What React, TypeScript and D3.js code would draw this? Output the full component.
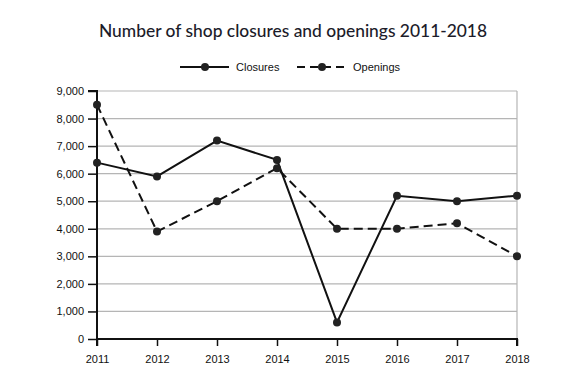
import * as d3 from 'd3';
import { useEffect, useRef } from 'react';

const years = ['2011', '2012', '2013', '2014', '2015', '2016', '2017', '2018'];
const closures = [6400, 5900, 7200, 6500, 600, 5200, 5000, 5200];
const openings = [8500, 3900, 5000, 6200, 4000, 4000, 4200, 3000];
const yTicks = [0, 1000, 2000, 3000, 4000, 5000, 6000, 7000, 8000, 9000];

const width = 568;
const height = 388;

export default function App() {
  const svgRef = useRef<SVGSVGElement>(null);

  useEffect(() => {
    if (!svgRef.current) return;
    const svg = d3.select(svgRef.current);
    svg.selectAll('*').remove();

    const margin = { top: 91, right: 51, bottom: 49, left: 97 };
    const innerWidth = width - margin.left - margin.right;
    const innerHeight = height - margin.top - margin.bottom;
    const labelFont = '"Liberation Sans", Arial, sans-serif';

    svg.append('rect').attr('width', width).attr('height', height).attr('fill', '#fff');

    svg.append('text')
      .attr('x', 293)
      .attr('y', 37)
      .attr('text-anchor', 'middle')
      .style('font-family', 'Lato, "Noto Sans", sans-serif')
      .style('font-size', '17.4px')
      .style('font-weight', 500)
      .style('fill', '#1c1c2a')
      .text('Number of shop closures and openings 2011-2018');

    const g = svg.append('g').attr('transform', `translate(${margin.left},${margin.top})`);

    const x = d3.scalePoint<string>().domain(years).range([0, innerWidth]);
    const y = d3.scaleLinear().domain([0, 9000]).range([innerHeight, 0]);

    // grid
    g.selectAll('.grid')
      .data(yTicks.filter(t => t > 0))
      .join('line')
      .attr('x1', 0)
      .attr('x2', innerWidth)
      .attr('y1', d => y(d))
      .attr('y2', d => y(d))
      .attr('stroke', '#b5b5b5')
      .attr('stroke-width', 1.2);

    g.append('line')
      .attr('x1', innerWidth).attr('x2', innerWidth)
      .attr('y1', 0).attr('y2', innerHeight)
      .attr('stroke', '#b5b5b5')
      .attr('stroke-width', 1.2);

    const yAxis = g.append('g')
      .call(d3.axisLeft(y).tickValues(yTicks).tickSize(9).tickPadding(4).tickFormat(d3.format(',')));
    const xAxis = g.append('g')
      .attr('transform', `translate(0,${innerHeight})`)
      .call(d3.axisBottom(x).tickSize(7).tickPadding(9));

    [yAxis, xAxis].forEach(a => {
      a.select('.domain').attr('stroke', '#111').attr('stroke-width', 2);
      a.selectAll('.tick line').attr('stroke', '#111').attr('stroke-width', 1.5);
      a.selectAll('text')
        .style('font-family', labelFont)
        .style('font-size', '11px')
        .style('fill', '#111');
    });
    yAxis.select('.domain').attr('d', `M0,${innerHeight}V0H-9`);
    xAxis.select('.domain').attr('d', `M0,7V0H${innerWidth}V7`);

    const line = d3.line<number>()
      .x((_, i) => x(years[i]) ?? 0)
      .y(d => y(d));

    const series = [
      { values: closures, dash: null },
      { values: openings, dash: '9,5' },
    ];

    series.forEach(s => {
      g.append('path')
        .datum(s.values)
        .attr('d', line)
        .attr('fill', 'none')
        .attr('stroke', '#111')
        .attr('stroke-width', 2)
        .attr('stroke-dasharray', s.dash);
      g.selectAll(null)
        .data(s.values)
        .join('circle')
        .attr('cx', (_, i) => x(years[i]) ?? 0)
        .attr('cy', d => y(d))
        .attr('r', 4)
        .attr('fill', '#222');
    });

    // legend
    const legend = svg.append('g').attr('transform', 'translate(0,67)');
    const items = [
      { label: 'Closures', x0: 180, dash: null },
      { label: 'Openings', x0: 297, dash: '8,5' },
    ];
    items.forEach(it => {
      legend.append('line')
        .attr('x1', it.x0).attr('x2', it.x0 + 49)
        .attr('stroke', '#111').attr('stroke-width', 2)
        .attr('stroke-dasharray', it.dash);
      legend.append('circle').attr('cx', it.x0 + 25).attr('r', 4).attr('fill', '#222');
      legend.append('text')
        .attr('x', it.x0 + 56)
        .attr('y', 4)
        .style('font-family', labelFont)
        .style('font-size', '11px')
        .style('fill', '#111')
        .text(it.label);
    });
  }, []);

  return <svg ref={svgRef} width={width} height={height} style={{ display: 'block', margin: -8 }} />;
}
